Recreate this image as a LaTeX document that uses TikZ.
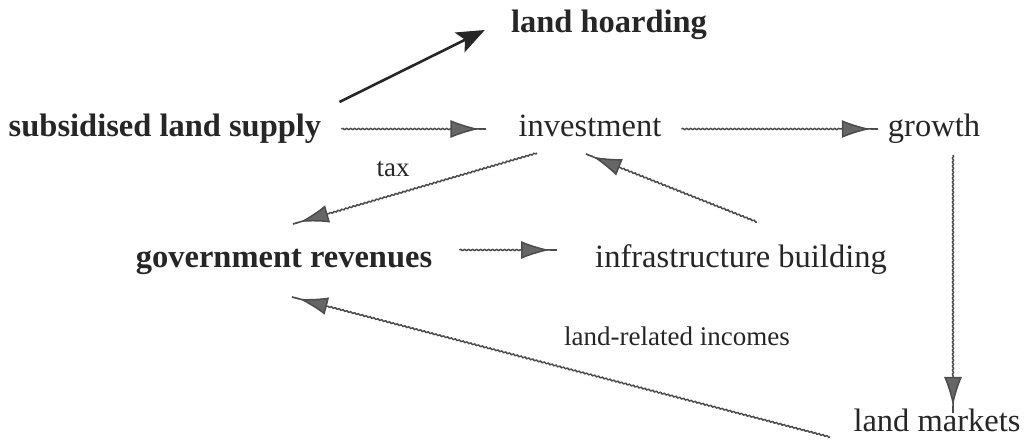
\documentclass[tikz,border=0pt]{standalone}
\usepackage{fontspec}
\setmainfont{Liberation Serif}
\usetikzlibrary{arrows.meta,calc,decorations.pathmorphing}
\tikzset{
  lbl/.style={inner sep=0pt, anchor=base, font=\fontsize{32.5}{36}\selectfont, text=black!85},
  blbl/.style={lbl, font=\fontsize{32.5}{36}\selectfont\bfseries},
  slbl/.style={lbl, font=\fontsize{27}{30}\selectfont},
  flow/.style={draw=black!70, line width=1.5pt,
    decoration={snake, amplitude=0.6pt, segment length=4pt, post length=36pt},
    decorate,
    -{Latex[length=29pt, width=18pt, fill=black!60, color=black!70, sep=0pt]Rectangle[length=7pt, width=1.3pt, sep=0pt, color=black!70]}},
  solidarrow/.style={draw=black!85, line width=2.6pt,
    -{Stealth[length=28pt, width=22pt, inset=6pt]}}
}
\begin{document}
\begin{tikzpicture}[x=1pt,y=-1pt]
\useasboundingbox (0,0) rectangle (1026,443);
\node[blbl] (hoard) at (609,33) {land hoarding};
\node[blbl] (supply) at (165,137) {subsidised land supply};
\node[lbl] (inv) at (590,137) {investment};
\node[lbl] (growth) at (934,137) {growth};
\node[slbl] (tax) at (393,177) {tax};
\node[blbl] (gov) at (284,268) {government revenues};
\node[lbl] (infra) at (741,268) {infrastructure building};
\node[slbl] (lri) at (677,346) {land-related incomes};
\node[lbl] (lm) at (937,432) {land markets};

\draw[solidarrow] ($(supply.base east)+(18,-35)$) -- ($(hoard.base west)+(-26,-3)$);
\draw[flow] ($(supply.base east)+(20,-8)$) -- ($(inv.base west)+(-32,-8)$);
\draw[flow] ($(inv.base east)+(20,-8)$) -- ($(growth.base west)+(-10,-8)$);
\draw[flow] ($(inv.base)+(-53,16)$) -- ($(gov.base)+(9,-44)$);
\draw[flow] ($(infra.base)+(16,-46)$) -- ($(inv.base)+(-4,17)$);
\draw[flow] ($(gov.base east)+(27,-18)$) -- ($(infra.base west)+(-38,-18)$);
\draw[flow] ($(growth.base)+(19,18)$) -- ($(lm.base)+(16,-19)$);
\draw[flow] ($(lm.base)+(-107,5)$) -- ($(gov.base)+(8,29)$);
\end{tikzpicture}
\end{document}
